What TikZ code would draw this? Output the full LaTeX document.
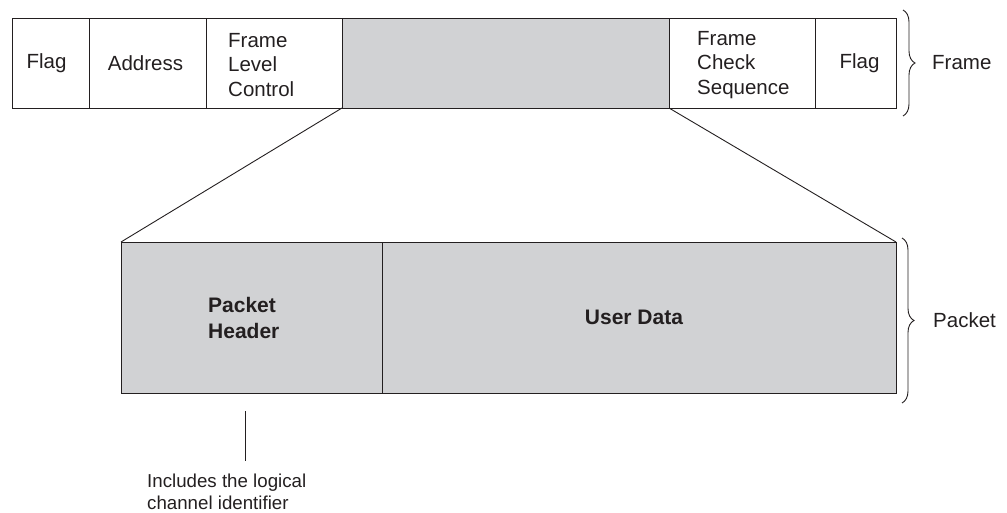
\documentclass[tikz,border=0pt]{standalone}
\usepackage{fontspec}
\setmainfont{Liberation Sans}
\usetikzlibrary{decorations.pathreplacing}
\definecolor{fieldgray}{RGB}{209,210,212}
\definecolor{ink}{RGB}{35,31,32}

\begin{document}
\begin{tikzpicture}[x=1pt, y=-1pt,
  cell/.style={draw=ink, line width=0.9pt, inner sep=0pt, outer sep=0pt, anchor=north west},
  fcell/.style={cell, minimum height=90pt},
  pcell/.style={cell, minimum height=151pt, fill=fieldgray},
  lbl/.style={font=\fontsize{20.5}{24.5}\selectfont, text=ink, align=left, inner sep=0pt},
  blbl/.style={lbl, font=\fontsize{21}{26}\selectfont\bfseries},
  note/.style={font=\fontsize{18.7}{21.5}\selectfont, text=ink, align=left, inner sep=0pt},
  link/.style={draw=ink, line width=0.9pt},
  bracket/.style={draw=ink, line width=0.9pt, decorate, decoration={brace, amplitude=12pt, aspect=0.5}}
]
\useasboundingbox (0,0) rectangle (1007,513);

% frame fields
\node[fcell, minimum width=77pt]  (flagA)   at (12,18)  {};
\node[fcell, minimum width=117pt] (addr)    at (89,18)  {};
\node[fcell, minimum width=136pt] (flc)     at (206,18) {};
\node[fcell, minimum width=327pt, fill=fieldgray] (payload) at (342,18) {};
\node[fcell, minimum width=146pt] (fcs)     at (669,18) {};
\node[fcell, minimum width=81pt]  (flagB)   at (815,18) {};

\node[lbl] (flagAT) at ([xshift=-4pt]flagA.center) {Flag};
\node[lbl] (addrT)  at ([xshift=-2pt]addr.center) {Address};
\node[lbl, anchor=west] (flcT) at (228,65) {Frame\\Level\\Control};
\node[lbl, anchor=west] (fcsT) at (697,65) {Frame\\Check\\Sequence};
\node[lbl] (flagBT) at ([xshift=4pt]flagB.center) {Flag};

% packet fields
\node[pcell, minimum width=261pt] (phdr)  at (121,242) {};
\node[pcell, minimum width=514pt] (udata) at (382,242) {};

\node[blbl, anchor=west] (phdrT) at (208,318) {Packet\\Header};
\node[blbl] (udataT) at ([xshift=-5pt]udata.center) {User Data};

% payload expands into the packet
\draw[link] (payload.south west) -- (phdr.north west);
\draw[link] (payload.south east) -- (udata.north east);

% braces and their labels
\draw[bracket] (903,10) -- (903,116);
\node[lbl, anchor=west] (frameL) at (932,63) {Frame};
\draw[bracket] (902,238) -- (902,403);
\node[lbl, anchor=west] (packetL) at (933,320) {Packet};

% annotation of the header
\node[note, anchor=north west] (noteT) at (147,474) {Includes the logical\\channel identifier};
\coordinate (ptop) at (245,411);
\coordinate (pbot) at (245,461);
\draw[link] (ptop) -- (pbot);
\end{tikzpicture}
\end{document}
